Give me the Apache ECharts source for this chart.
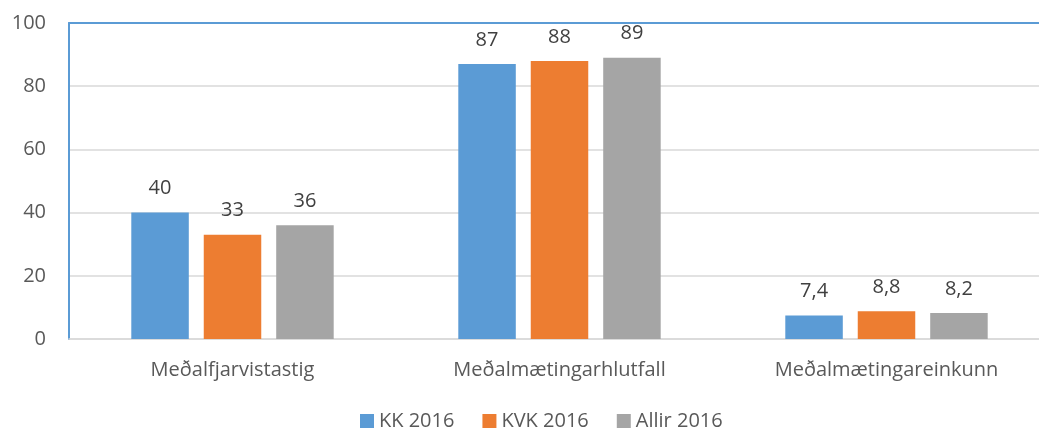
<!DOCTYPE html>
<html>
<head>
<meta charset="utf-8">
<script src="https://cdn.jsdelivr.net/npm/echarts@6/dist/echarts.min.js"></script>
<style>
html,body{margin:0;padding:0;background:#fff;overflow:hidden;width:1039px;height:430px;}
#c{width:1050px;height:430px;}
</style>
</head>
<body>
<div id="c"></div>
<script>
const categories = ['Meðalfjarvistastig', 'Meðalmætingarhlutfall', 'Meðalmætingareinkunn'];
const seriesNames = ['KK 2016', 'KVK 2016', 'Allir 2016'];
const kk = [40, 87, 7.4];
const kvk = [33, 88, 8.8];
const allir = [36, 89, 8.2];
const colors = ['#5b9bd5', '#ed7d31', '#a5a5a5'];
const yTicks = [0, 20, 40, 60, 80, 100];

const FONT = '"Open Sans", "Liberation Sans", sans-serif';
const chart = echarts.init(document.getElementById('c'), null, {renderer: 'canvas'});
const mk = (name, data, color) => ({
  name, type: 'bar', data, barWidth: 57.5, barGap: '26%',
  itemStyle: {color},
  label: {
    show: true, position: 'top', distance: 14,
    color: '#404040', fontSize: 20, fontFamily: FONT,
    formatter: p => String(p.value).replace('.', ',')
  }
});
chart.setOption({
  animation: false,
  textStyle: {fontFamily: FONT},
  grid: {left: 69, right: 0, top: 23, bottom: 91, containLabel: false},
  legend: {
    data: seriesNames, top: 406, left: 355,
    itemWidth: 14, itemHeight: 14, itemGap: 28, icon: 'rect',
    textStyle: {color: '#595959', fontSize: 20, fontFamily: FONT, padding: [0, 0, 0, 0]}
  },
  xAxis: [{
    type: 'category', data: categories,
    axisLine: {lineStyle: {color: '#d9d9d9', width: 1.5}},
    axisTick: {show: false},
    axisLabel: {color: '#595959', fontSize: 20, margin: 21, fontFamily: FONT}
  }, {
    type: 'category', data: categories, position: 'top',
    axisLine: {lineStyle: {color: '#5b9bd5', width: 2}},
    axisTick: {show: false}, axisLabel: {show: false}
  }],
  yAxis: {
    type: 'value', min: yTicks[0], max: yTicks[yTicks.length - 1], interval: 20,
    axisLine: {show: true, lineStyle: {color: '#5b9bd5', width: 2}},
    axisTick: {show: false},
    splitLine: {lineStyle: {color: '#d9d9d9', width: 1.5}},
    axisLabel: {color: '#595959', fontSize: 20, margin: 23, fontFamily: FONT}
  },
  series: [mk(seriesNames[0], kk, colors[0]), mk(seriesNames[1], kvk, colors[1]), mk(seriesNames[2], allir, colors[2])]
});
</script>
</body>
</html>
